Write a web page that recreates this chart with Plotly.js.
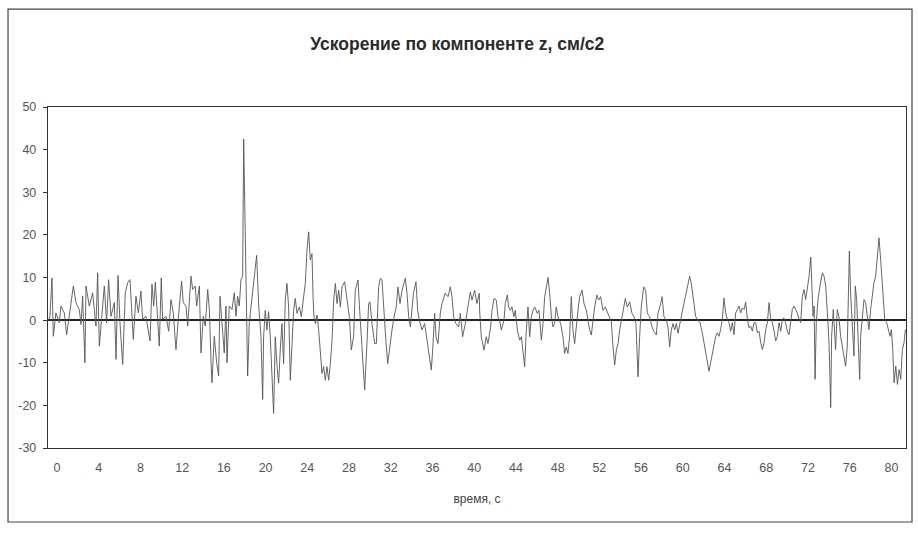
<!DOCTYPE html>
<html>
<head>
<meta charset="utf-8">
<script src="https://cdn.plot.ly/plotly-3.0.1.min.js"></script>
<style>html,body{margin:0;padding:0;background:#fff;}#chart{width:918px;height:533px;}</style>
</head>
<body>
<div id="chart"></div>
<script>
// time, s
const time = [
-0.80,-0.67,-0.48,-0.35,-0.10,0.22,0.38,0.70,0.93,1.18,1.57,1.82,2.14,2.30,2.46,2.68,2.78,3.10,3.42,3.74,3.90,4.06,4.31,4.54,4.76,4.95,5.18,5.50,5.66,5.85,6.04,6.30,6.55,6.78,7.00,7.19,7.32,7.57,7.80,8.05,8.21,8.53,8.92,9.11,9.27,9.43,9.65,9.81,10.00,10.13,10.45,10.71,10.93,11.15,11.41,11.57,11.73,11.95,12.11,12.37,12.53,12.85,13.01,13.26,13.39,13.65,13.81,14.03,14.22,14.45,14.61,14.77,14.86,15.08,15.31,15.50,15.63,15.82,16.04,16.20,16.30,16.52,16.78,17.00,17.16,17.32,17.48,17.64,17.80,17.90,18.06,18.18,18.28,18.44,18.60,18.76,18.92,19.14,19.34,19.56,19.72,
19.81,19.97,20.13,20.29,20.45,20.77,20.93,21.10,21.25,21.41,21.57,21.73,21.89,22.05,22.21,22.37,22.53,22.69,22.85,23.01,23.24,23.43,23.65,23.81,23.97,24.13,24.29,24.45,24.55,24.64,24.77,24.93,25.09,25.25,25.41,25.57,25.73,25.89,26.05,26.21,26.37,26.53,26.69,26.85,27.01,27.17,27.33,27.58,27.80,28.03,28.22,28.44,28.60,28.86,29.02,29.24,29.50,29.72,29.88,30.01,30.20,30.46,30.62,30.84,31.00,31.16,31.32,31.55,31.71,31.90,32.12,32.38,32.53,32.69,32.89,33.08,33.40,33.56,33.72,33.88,34.04,34.18,34.42,34.58,34.74,34.99,35.25,35.47,35.70,35.89,36.02,36.21,36.34,36.53,36.75,36.91,37.23,37.49,37.71,37.87,38.03,38.25,38.51,38.67,38.89,39.15,39.40,39.63,39.79,40.04,40.27,40.49,
40.52,40.68,40.94,41.16,41.32,41.58,41.71,41.90,42.12,42.28,42.44,42.60,42.86,42.98,43.18,43.30,43.46,43.62,43.81,43.94,44.14,44.36,44.52,44.68,44.84,45.00,45.16,45.32,45.48,45.64,45.80,46.05,46.21,46.44,46.60,46.76,46.92,47.08,47.24,47.40,47.56,47.71,47.87,48.03,48.29,48.51,48.67,48.83,48.99,49.15,49.31,49.47,49.63,49.79,49.95,50.11,50.34,50.53,50.75,50.91,51.07,51.23,51.39,51.55,51.77,51.93,52.12,52.35,52.57,52.83,52.99,53.15,53.31,53.47,53.63,53.79,53.95,54.11,54.33,54.49,54.68,54.91,55.13,55.32,55.51,55.71,55.86,56.02,56.25,56.44,56.60,56.82,57.05,57.24,57.46,57.62,57.88,58.01,58.20,58.42,58.58,58.74,58.90,59.06,59.22,59.38,59.54,59.70,59.92,60.18,60.43,60.66,60.82,60.98,61.14,
61.23,61.39,61.65,61.87,62.10,62.29,62.51,62.67,62.83,62.99,63.15,63.31,63.47,63.63,63.79,63.95,64.11,64.27,64.43,64.59,64.75,64.91,65.07,65.23,65.39,65.55,65.71,65.87,66.03,66.19,66.35,66.51,66.67,66.83,66.99,67.15,67.31,67.47,67.63,67.79,67.95,68.11,68.27,68.43,68.59,68.75,68.91,69.07,69.23,69.39,69.55,69.70,69.86,70.02,70.18,70.34,70.50,70.66,70.82,70.98,71.14,71.30,71.46,71.62,71.78,71.95,72.11,72.27,72.36,72.49,72.59,72.68,72.80,72.96,73.15,73.38,73.54,73.70,73.86,74.02,74.18,74.27,74.43,74.56,74.65,74.81,74.97,75.13,75.29,75.45,75.61,75.77,75.87,75.97,76.09,76.25,76.41,76.54,76.67,76.80,76.96,77.05,77.21,77.37,77.53,77.69,77.85,78.01,78.17,78.33,78.49,78.65,78.81,78.97,79.13,79.23,79.36,79.55,79.71,79.87,80.00,80.13,80.26,80.42,80.58,80.74,80.90,81.05,81.21,81.34
];
// acceleration z, cm/s2
const accel = [
0,0.9,9.9,-3.8,1.7,-0.6,3.3,1.7,-3.4,1.3,8.0,4.1,2.5,-1.0,5.6,-10.0,8.0,3.3,6.4,-1.4,11.1,-6.1,2.5,8.0,-0.6,9.5,0.9,4.1,-9.2,10.5,-0.6,-10.4,6.4,8.8,9.5,2.5,-4.5,5.6,1.7,6.8,0.2,0.9,-4.9,8.4,3.3,8.9,0.9,-6.1,9.9,0.2,0.9,-2.6,4.8,1.7,-6.9,-1.4,3.3,9.1,4.1,3.3,-1.4,10.3,7.2,8.0,3.3,8.0,-7.7,0.9,-1.4,7.2,2.5,-10.0,-14.7,-3.8,-10.0,-13.1,5.6,-0.6,-7.7,3.3,-10.0,3.3,2.5,6.4,0.9,5.6,3.3,9.5,10.3,42.5,16.6,0.9,-13.1,-0.6,3.3,5.6,10.3,15.2,3.3,-3.8,-18.6,
-3.9,2.3,-2.3,2.0,-3.9,-21.9,-3.9,-10.9,-14.8,-7.0,-0.8,-10.2,4.7,8.6,3.1,-14.1,-7.0,2.3,5.1,1.6,3.1,0.8,5.5,8.6,16.4,20.7,14.1,15.6,5.5,0.8,-0.8,1.2,-2.3,-7.0,-12.5,-10.9,-14.1,-10.9,-14.1,-10.2,-4.7,4.7,8.6,3.9,7.0,3.1,7.8,9.0,4.7,0.8,-7.0,-3.9,7.0,9.4,2.3,-7.0,-16.4,-5.5,3.9,4.3,-0.8,-5.5,-5.5,7.8,9.8,9.4,2.3,-5.5,-10.2,-6.3,-2.3,1.6,3.1,7.8,3.9,7.0,9.8,6.3,0.8,-1.6,2.3,6.3,9.0,2.3,0,-2.3,-0.8,-4.7,-7.8,-11.7,-7.0,1.6,-3.9,-5.5,1.6,3.9,6.3,5.5,7.8,5.5,0.8,-0.8,-1.6,1.6,-3.9,-0.8,3.1,6.6,4.7,7.0,3.9,6.3,
2.3,-3.9,-7.0,-3.9,-5.5,-1.6,2.3,5.1,4.7,0.8,0,-2.3,0,3.9,5.9,3.1,2.3,3.1,0.8,2.3,-2.3,-4.7,-3.9,-7.0,-10.9,-2.3,3.1,-3.9,0.8,2.3,3.1,1.6,2.3,-4.7,-0.8,5.5,7.8,10.0,6.3,0.8,-1.6,-0.8,3.1,0.8,-0.8,-3.9,-7.8,-6.3,-7.8,-3.9,5.5,-2.3,-5.5,-0.8,2.3,5.5,7.0,3.9,2.3,0,-2.3,-3.5,0,3.1,5.9,4.7,5.5,2.3,3.1,1.6,0.8,-0.4,-6.3,-10.5,-7.0,-5.5,-2.3,0,3.1,5.1,3.1,4.3,1.6,0.8,-0.8,-13.3,-3.9,3.1,7.8,7.0,1.6,0.8,-1.6,-2.7,-3.5,1.6,3.9,5.5,0.8,0,-1.6,-6.3,-2.3,-0.8,-2.3,-0.8,-3.1,-0.8,1.6,4.7,7.8,10.3,8.6,5.5,1.6,
0.9,0.2,-0.6,-3.0,-6.1,-8.4,-12.0,-10.0,-7.7,-6.1,-3.8,-3.0,-3.8,-2.2,0.2,5.2,1.7,0.2,-0.6,-2.6,-0.6,-3.4,1.7,2.5,3.3,1.7,2.9,2.5,4.2,0.2,-1.8,-1.4,-2.6,-0.6,-0.6,-3.0,-2.6,-5.3,-6.9,-5.3,-2.2,-0.6,4.1,0.2,-0.6,-2.6,-4.9,-3.8,-0.6,-2.6,0.2,0.5,-0.6,-2.6,-3.4,-0.6,2.5,3.3,2.5,1.7,0.2,-0.6,5.6,7.2,4.8,7.2,10.3,14.8,7.2,0.9,3.3,-13.9,-0.6,4.8,8.0,11.1,10.3,8.0,1.7,-5.3,-20.5,-3.8,2.5,-3.8,-6.9,2.5,0.9,-3.8,-6.1,-9.2,-10.8,-6.1,6.4,16.2,6.4,-2.2,-8.4,8.0,4.8,-3.8,-13.9,-3.8,1.7,4.8,4.1,0.2,-2.2,2.5,5.6,8.8,10.3,15.0,19.3,14.2,8.8,4.1,0.2,-0.6,-2.6,-3.8,-2.2,-6.9,-14.7,-10.8,-15.1,-11.6,-13.9,-6.9,-5.3,-2.2
];
const xTickVals = [0,4,8,12,16,20,24,28,32,36,40,44,48,52,56,60,64,68,72,76,80];
const xTickText = ['0','4','8','12','16','20','24','28','32','36','40','44','48','52','56','60','64','68','72','76','80'];
const yTickVals = [-30,-20,-10,0,10,20,30,40,50];
const yTickText = ['-30','-20','-10','0','10','20','30','40','50'];

const trace = {
  x: time, y: accel, type: 'scatter', mode: 'lines',
  line: {color: '#555555', width: 0.9},
  hoverinfo: 'skip'
};

const layout = {
  width: 918, height: 533,
  margin: {l: 48, r: 12, t: 107, b: 85},
  paper_bgcolor: '#ffffff', plot_bgcolor: '#ffffff',
  showlegend: false,
  font: {family: 'Liberation Sans, Arial, sans-serif', size: 12, color: '#333'},
  title: {
    text: 'Ускорение по компоненте z, см/с2',
    font: {family: 'Liberation Sans, Arial, sans-serif', size: 17.5, color: '#2a2a2a', weight: 'bold'},
    x: 0.477, xref: 'paper', xanchor: 'center',
    y: 0.918, yref: 'container', yanchor: 'middle'
  },
  xaxis: {
    range: [-0.86, 81.4],
    tickmode: 'array', tickvals: xTickVals, ticktext: xTickText,
    showgrid: false, zeroline: false,
    showline: true, mirror: true, linecolor: '#333', linewidth: 1.2,
    ticks: '', ticklen: 0,
    ticklabelstandoff: 8,
    tickfont: {size: 12.5, color: '#555'},
    title: {text: 'время, с', font: {size: 12, color: '#444'}, standoff: 20}
  },
  yaxis: {
    range: [-30, 50],
    tickmode: 'array', tickvals: yTickVals, ticktext: yTickText,
    showgrid: false,
    zeroline: true, zerolinecolor: '#222', zerolinewidth: 1.3,
    showline: true, mirror: true, linecolor: '#333', linewidth: 1.2,
    ticks: 'outside', ticklen: 4, tickcolor: '#333',
    ticklabelstandoff: 4,
    tickfont: {size: 12.5, color: '#555'}
  },
  shapes: [{
    type: 'rect', xref: 'paper', yref: 'paper',
    x0: -0.0466, x1: 1.007, y0: -0.217, y1: 1.287,
    line: {color: '#444', width: 1.2}
  }]
};

Plotly.newPlot('chart', [trace], layout, {staticPlot: true, displayModeBar: false});
</script>
</body>
</html>
